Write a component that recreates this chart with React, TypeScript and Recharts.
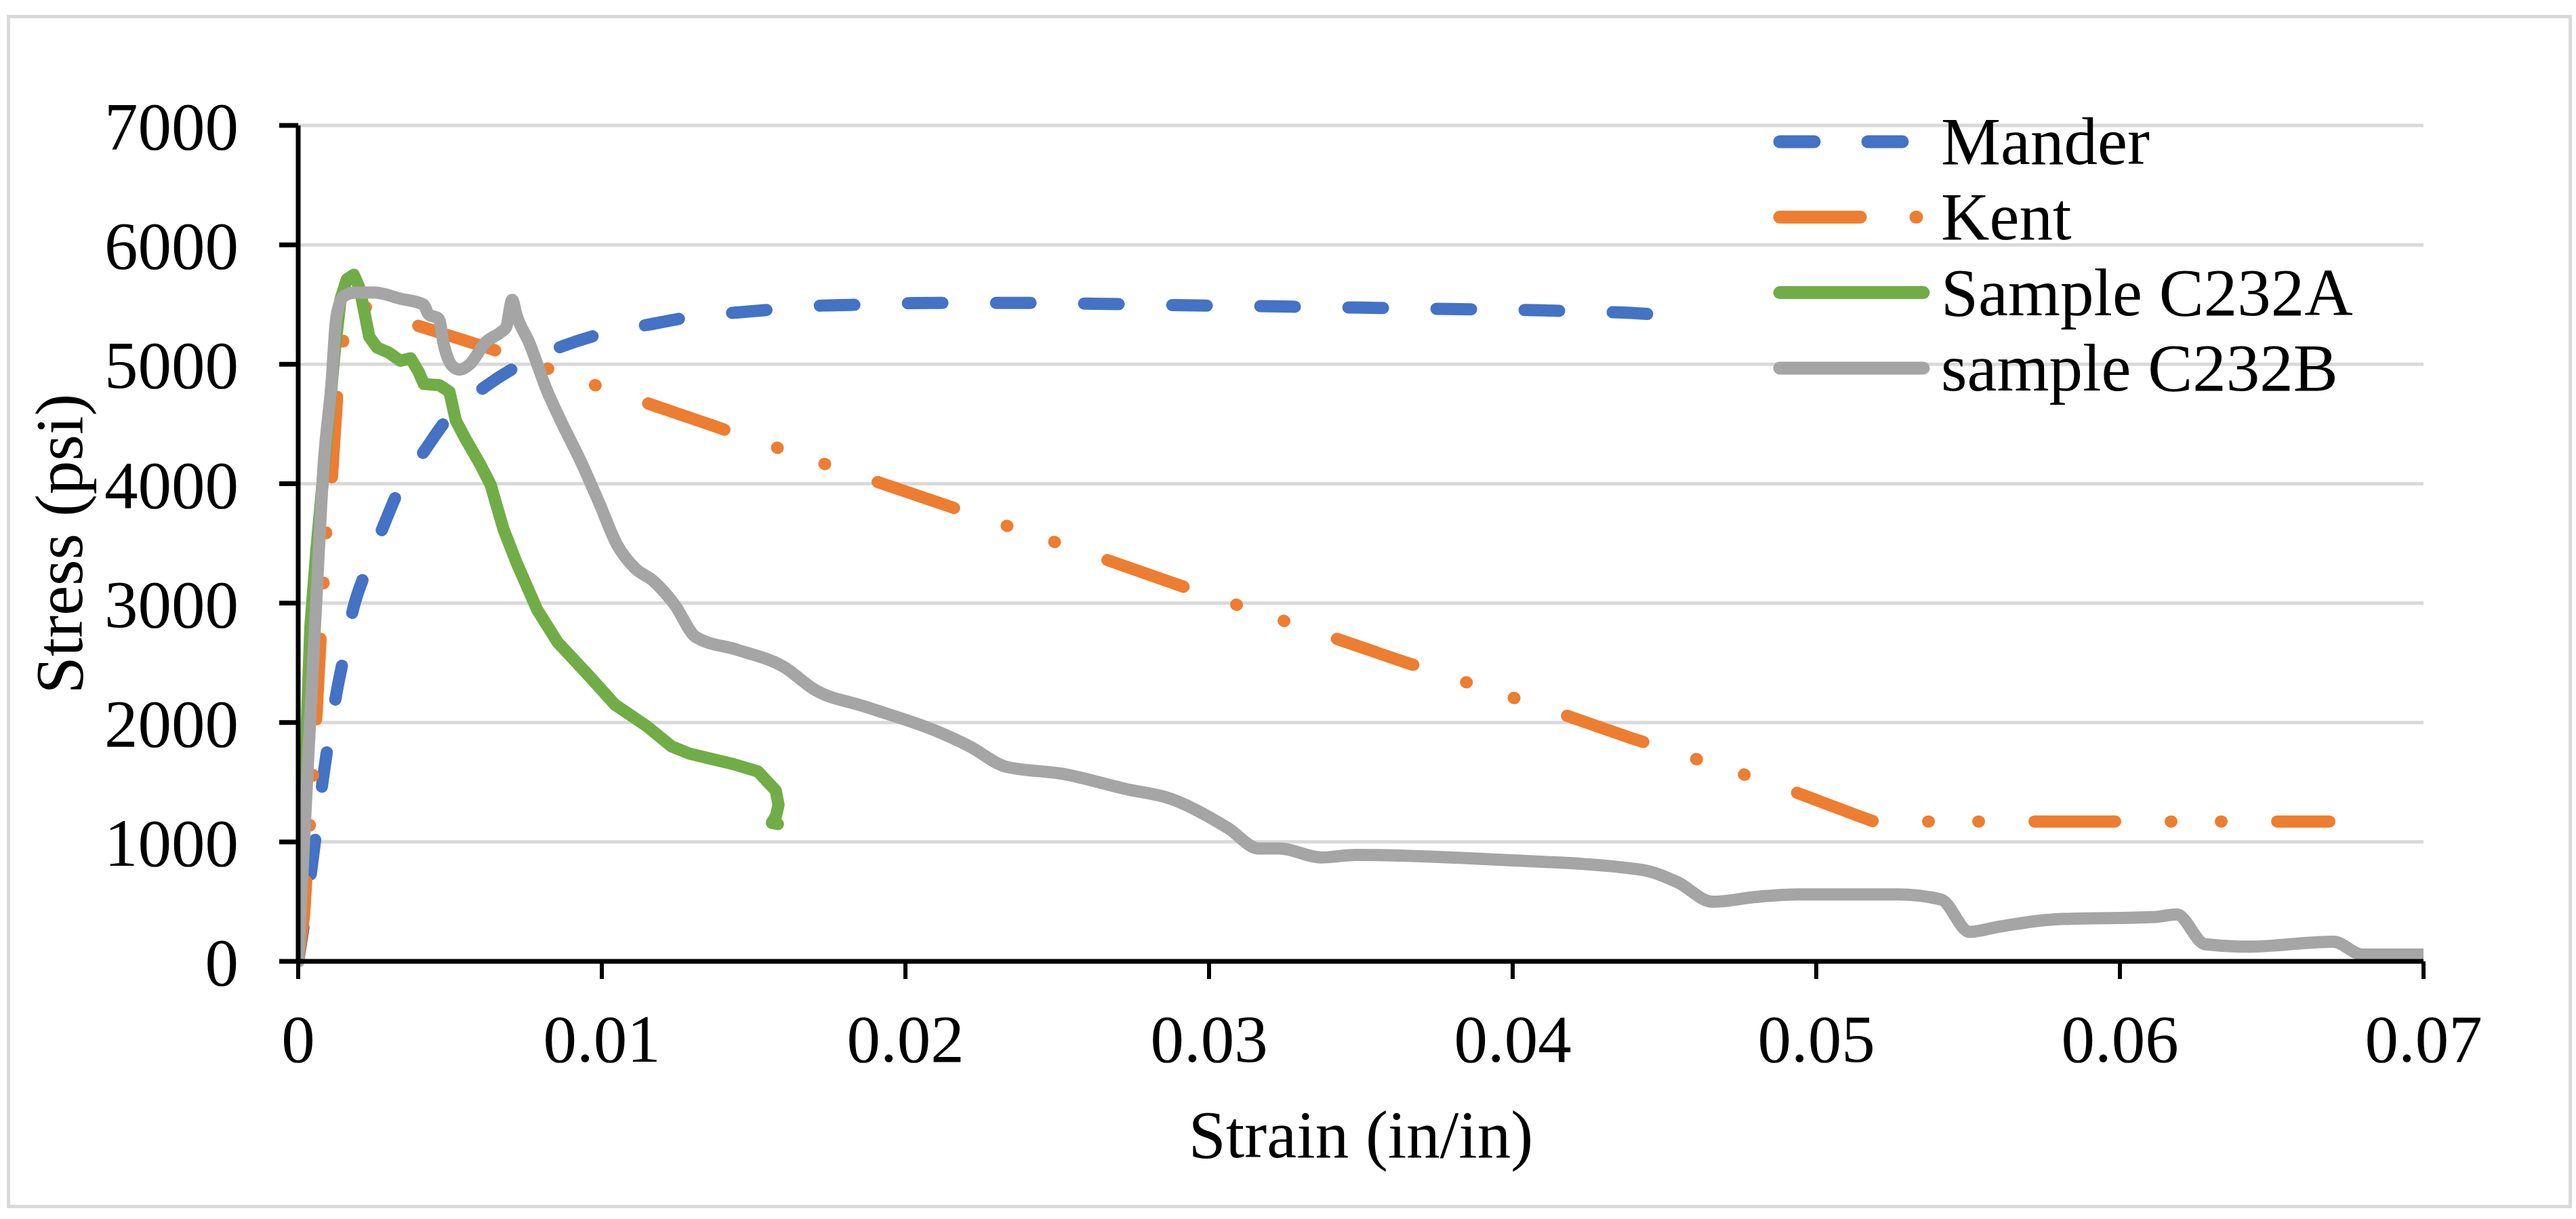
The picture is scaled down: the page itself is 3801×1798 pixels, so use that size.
import React from "react"
import { LineChart, Line, XAxis, YAxis, CartesianGrid } from "recharts"

const STRAIN_TICKS = [0, 0.01, 0.02, 0.03, 0.04, 0.05, 0.06, 0.07]
const STRESS_TICKS = [0, 1000, 2000, 3000, 4000, 5000, 6000, 7000]

const SERIES_NAMES = ["Mander", "Kent", "Sample C232A", "sample C232B"]

// Mander model
const manderStrain = [
 0, 0.0002, 0.0004, 0.0006, 0.0008, 0.001, 0.0013, 0.0015, 0.0018, 0.0022, 0.0028, 0.0033, 0.0042,
 0.0049, 0.0062, 0.0073, 0.0088, 0.01, 0.0116, 0.0129, 0.0145, 0.0158, 0.0173, 0.0188, 0.0203,
 0.022, 0.024, 0.026, 0.028, 0.0296, 0.032, 0.0335, 0.0351, 0.0364, 0.0394, 0.041, 0.0424, 0.0439,
 0.045,
]
const manderStress = [
 0, 330, 700, 1100, 1500, 1850, 2300, 2550, 2940, 3250, 3640, 3940, 4290, 4540, 4820, 4995, 5160,
 5255, 5335, 5395, 5435, 5462, 5492, 5500, 5512, 5514, 5514, 5508, 5500, 5492, 5486, 5478, 5474,
 5468, 5458, 5451, 5440, 5430, 5410,
]

// Kent model
const kentStrain = [
 0, 0.0002, 0.0003, 0.0004, 0.0005, 0.0006, 0.0008, 0.00093, 0.0011, 0.0013, 0.0015, 0.0018, 0.002,
 0.00327, 0.00625, 0.01088, 0.01369, 0.01837, 0.02126, 0.02586, 0.02875, 0.03335, 0.03624, 0.04107,
 0.04389, 0.0487, 0.0514, 0.0519, 0.0669,
]
const kentStress = [
 0, 400, 835, 1200, 1600, 2050, 3000, 3620, 4010, 4790, 5240, 5490, 5500, 5377, 5138, 4728, 4483,
 4076, 3826, 3431, 3173, 2775, 2524, 2120, 1871, 1476, 1217, 1171, 1171,
]

// Sample C232A
const sampleAStrain = [
 0, 0.0001, 0.0002, 0.0003, 0.0004, 0.0006, 0.0008, 0.001, 0.0012, 0.0014, 0.0016, 0.00183, 0.002,
 0.0021, 0.00234, 0.0026, 0.003, 0.00336, 0.0037, 0.00396, 0.00414, 0.00465, 0.00498, 0.00519,
 0.0055, 0.006, 0.00634, 0.00676, 0.00719, 0.00787, 0.00855, 0.00958, 0.01043, 0.01145, 0.0123,
 0.01288, 0.01428, 0.01514, 0.01573, 0.01582, 0.01574, 0.0156, 0.0158,
]
const sampleAStress = [
 0, 600, 1300, 2100, 2800, 3450, 4000, 4550, 5100, 5550, 5710, 5750, 5650, 5540, 5230, 5140, 5095,
 5030, 5050, 4940, 4835, 4825, 4770, 4530, 4380, 4160, 3990, 3620, 3340, 2945, 2670, 2390, 2150,
 1975, 1800, 1740, 1655, 1590, 1430, 1310, 1220, 1160, 1150,
]

// sample C232B
const sampleBStrain = [
 0, 0.0002, 0.0004, 0.00058, 0.00084, 0.00109, 0.00126, 0.0015, 0.0019, 0.0025, 0.00336, 0.00413,
 0.00429, 0.00463, 0.0048, 0.00506, 0.00531, 0.00565, 0.00616, 0.00668, 0.00685, 0.00705, 0.00718,
 0.00761, 0.00821, 0.00872, 0.00932, 0.00992, 0.0105, 0.0111, 0.0117, 0.01239, 0.0131, 0.01445,
 0.016, 0.01701, 0.01871, 0.0211, 0.02212, 0.02331, 0.02518, 0.02723, 0.02876, 0.03063, 0.03164,
 0.03233, 0.03369, 0.03484, 0.03954, 0.04424, 0.04542, 0.04659, 0.048, 0.04941, 0.0527, 0.05411,
 0.05505, 0.05599, 0.05787, 0.06117, 0.06187, 0.06281, 0.06422, 0.06704, 0.06798, 0.07,
]
const sampleBStress = [
 0, 1050, 2050, 2940, 4165, 4815, 5400, 5570, 5600, 5600, 5550, 5500, 5420, 5380, 5160, 4990, 4955,
 5000, 5180, 5270, 5310, 5540, 5420, 5180, 4770, 4490, 4180, 3835, 3490, 3290, 3185, 2990, 2715,
 2610, 2465, 2275, 2130, 1920, 1800, 1630, 1570, 1445, 1360, 1115, 945, 945, 870, 892, 851, 767,
 664, 499, 539, 560, 560, 518, 247, 289, 352, 372, 393, 143, 123, 165, 57, 57,
]

const toPoints = (xs: number[], ys: number[]) =>
 xs.slice(0, Math.min(xs.length, ys.length)).map((x, i) => ({ x, y: ys[i] }))

const FONT = '"Liberation Serif", "Times New Roman", serif'

const SERIES = [
 { name: SERIES_NAMES[0], data: toPoints(manderStrain, manderStress), color: "#4472C4", dash: "51 79", curve: "monotone" },
 { name: SERIES_NAMES[1], data: toPoints(kentStrain, kentStress), color: "#ED7D31", dash: "119 82 1 73 1 82", curve: "linear" },
 { name: SERIES_NAMES[2], data: toPoints(sampleAStrain, sampleAStress), color: "#70AD47", dash: undefined, curve: "linear" },
 { name: SERIES_NAMES[3], data: toPoints(sampleBStrain, sampleBStress), color: "#A5A5A5", dash: undefined, curve: "monotone" },
]

const tickStyle = { fontSize: 99, fontFamily: FONT, fill: "#000" }

function LegendOverlay() {
 return (
 <svg
 width={3801}
 height={1798}
 style={{ position: "absolute", left: 0, top: 0, pointerEvents: "none" }}
 >
 {SERIES.map((s, i) => {
 const cy = 209 + i * 111.3
 return (
 <g key={s.name}>
 <line
 x1={2626}
 x2={2838}
 y1={cy}
 y2={cy}
 stroke={s.color}
 strokeWidth={19}
 strokeDasharray={s.dash}
 strokeLinecap="round"
 />
 <text x={2864} y={cy + 33} fontSize={99} fontFamily={FONT} fill="#000">
 {s.name}
 </text>
 </g>
 )
 })}
 </svg>
 )
}

export default function App() {
 return (
 <div style={{ position: "absolute", left: 0, top: 0, width: 3801, height: 1798, background: "#fff" }}>
 {/* chart frame */}
 <div
 style={{
 position: "absolute",
 left: 10,
 top: 22,
 width: 3785,
 height: 1760,
 border: "5px solid #d9d9d9",
 boxSizing: "border-box",
 }}
 />
 <LineChart
 width={3801}
 height={1798}
 margin={{ top: 185, right: 225, bottom: 180, left: 140 }}
 style={{ position: "absolute", left: 0, top: 0 }}
 >
 <CartesianGrid horizontal vertical={false} stroke="#d9d9d9" strokeWidth={5} />
 <XAxis
 type="number"
 dataKey="x"
 domain={[0, 0.07]}
 ticks={STRAIN_TICKS}
 interval={0}
 allowDataOverflow
 height={200}
 tickSize={26}
 tickMargin={52}
 axisLine={{ stroke: "#000", strokeWidth: 7 }}
 tickLine={{ stroke: "#000", strokeWidth: 6 }}
 tick={tickStyle}
 tickFormatter={(v: number) => String(v)}
 label={() => (
 <text x={2008} y={1707} textAnchor="middle" fontSize={99} fontFamily={FONT} fill="#000">
 Strain (in/in)
 </text>
 )}
 />
 <YAxis
 type="number"
 dataKey="y"
 domain={[0, 7000]}
 ticks={STRESS_TICKS}
 interval={0}
 width={300}
 tickSize={28}
 tickMargin={60}
 axisLine={{ stroke: "#000", strokeWidth: 7 }}
 tickLine={{ stroke: "#000", strokeWidth: 7 }}
 tick={tickStyle}
 label={() => (
 <text
 x={121}
 y={802}
 transform="rotate(-90 121 802)"
 textAnchor="middle"
 fontSize={99}
 fontFamily={FONT}
 fill="#000"
 >
 Stress (psi)
 </text>
 )}
 />
 {SERIES.map((s) => (
 <Line
 key={s.name}
 name={s.name}
 data={s.data}
 dataKey="y"
 type={s.curve as "linear" | "monotone"}
 stroke={s.color}
 strokeWidth={18}
 strokeDasharray={s.dash}
 strokeLinecap="round"
 strokeLinejoin="round"
 dot={false}
 activeDot={false}
 isAnimationActive={false}
 />
 ))}
 </LineChart>
 <LegendOverlay />
 </div>
 )
}
